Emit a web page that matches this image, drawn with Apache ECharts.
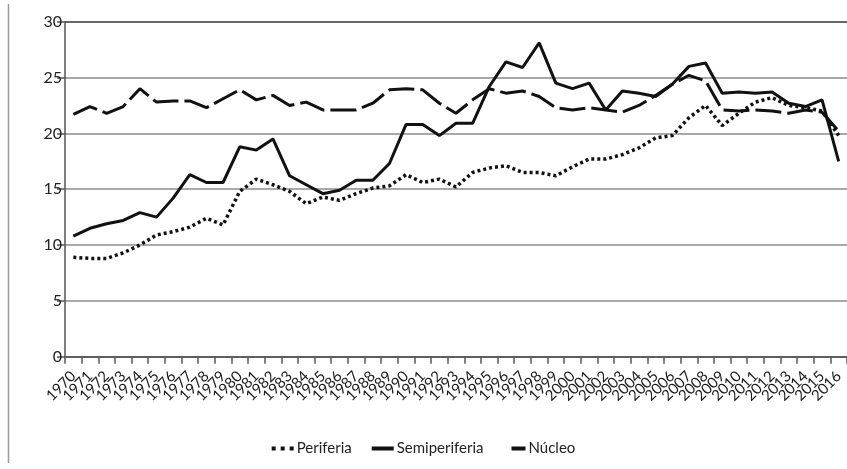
<!DOCTYPE html>
<html>
<head>
<meta charset="utf-8">
<script src="https://cdn.jsdelivr.net/npm/echarts@6/dist/echarts.min.js"></script>
<style>
html,body{margin:0;padding:0;background:#fff;}
#chart{width:847px;height:469px;}
</style>
</head>
<body>
<div id="chart"></div>
<script>
var years = [];
for (var y = 1970; y <= 2016; y++) { years.push(String(y)); }

var periferia = [8.9, 8.8, 8.8, 9.3, 10.0, 10.9, 11.2, 11.6, 12.4, 11.8,
  14.8, 15.9, 15.4, 14.8, 13.7, 14.3, 14.0, 14.6, 15.1, 15.3,
  16.3, 15.6, 15.9, 15.2, 16.5, 16.9, 17.1, 16.5, 16.5, 16.2,
  17.0, 17.7, 17.7, 18.1, 18.7, 19.6, 19.8, 21.4, 22.5, 20.7,
  21.8, 22.8, 23.2, 22.5, 22.3, 22.0, 19.8];

var semiperiferia = [10.8, 11.5, 11.9, 12.2, 12.9, 12.5, 14.2, 16.3, 15.6, 15.6,
  18.8, 18.5, 19.5, 16.2, 15.4, 14.6, 14.9, 15.8, 15.8, 17.3,
  20.8, 20.8, 19.8, 20.9, 20.9, 24.2, 26.4, 25.9, 28.1, 24.5,
  24.0, 24.5, 22.1, 23.8, 23.6, 23.3, 24.4, 26.0, 26.3, 23.6,
  23.7, 23.6, 23.7, 22.7, 22.4, 23.0, 17.5];

var nucleo = [21.7, 22.4, 21.8, 22.4, 24.0, 22.8, 22.9, 22.9, 22.3, 23.1,
  23.9, 23.0, 23.4, 22.5, 22.8, 22.1, 22.1, 22.1, 22.7, 23.9,
  24.0, 23.9, 22.7, 21.8, 23.0, 24.0, 23.6, 23.8, 23.3, 22.3,
  22.1, 22.3, 22.1, 21.9, 22.5, 23.4, 24.4, 25.2, 24.7, 22.1,
  22.0, 22.1, 22.0, 21.8, 22.1, 21.9, 20.2];

var seriesNames = ['Periferia', 'Semiperiferia', 'Núcleo'];
var yTicks = [0, 5, 10, 15, 20, 25, 30];

var font = "Lato, 'Liberation Sans', sans-serif";
var chart = echarts.init(document.getElementById('chart'), null, {renderer: 'canvas'});

var icons = [
  'path://M0,0h4v4h-4zM9,0h4v4h-4zM18,0h4v4h-4z',
  'path://M0,0h22v4h-22z',
  'path://M0,2L0.01,2L0.01,2.01ZM8,0h14v4h-14z'
];

var option = {
  animation: false,
  backgroundColor: '#ffffff',
  graphic: [{
    type: 'line',
    shape: {x1: 8.5, y1: 4, x2: 8.5, y2: 463},
    style: {stroke: '#9a9a9a', lineWidth: 1.5}
  }],
  grid: {left: 65, right: -8, top: 21.7, bottom: 112.3, containLabel: false},
  legend: {
    data: seriesNames.map(function (n, i) { return {name: n, icon: icons[i]}; }),
    top: 436,
    left: 'center',
    itemWidth: 22,
    itemHeight: 4,
    itemGap: 20,
    itemStyle: {color: '#111', borderWidth: 0},
    textStyle: {fontFamily: font, fontSize: 15, color: '#222', padding: [0, 0, 0, -2]}
  },
  xAxis: {
    type: 'category',
    data: years,
    boundaryGap: true,
    axisLine: {lineStyle: {color: '#555', width: 1.5}},
    axisTick: {show: true, length: 7, interval: 0, lineStyle: {color: '#555', width: 1.5}},
    axisLabel: {interval: 0, rotate: 45, fontFamily: font, fontSize: 15, color: '#1a1a1a', margin: 17}
  },
  yAxis: {
    type: 'value',
    min: yTicks[0],
    max: yTicks[yTicks.length - 1],
    interval: 5,
    axisLine: {show: true, lineStyle: {color: '#555', width: 1.5}},
    axisTick: {show: true, length: 8, lineStyle: {color: '#555', width: 1.5}},
    axisLabel: {fontFamily: font, fontSize: 16, color: '#222', margin: 3},
    splitLine: {show: true, lineStyle: {color: ['#555', '#8c8c8c', '#8c8c8c', '#8c8c8c', '#8c8c8c', '#8c8c8c', '#333'], width: 1.5}}
  },
  series: [
    {
      name: seriesNames[0], type: 'line', data: periferia,
      symbol: 'none', showSymbol: false,
      lineStyle: {color: '#111', width: 3.5, type: [3, 3], cap: 'butt'},
      itemStyle: {color: '#111'}
    },
    {
      name: seriesNames[1], type: 'line', data: semiperiferia,
      symbol: 'none', showSymbol: false,
      lineStyle: {color: '#111', width: 3},
      itemStyle: {color: '#111'}
    },
    {
      name: seriesNames[2], type: 'line', data: nucleo,
      symbol: 'none', showSymbol: false,
      lineStyle: {color: '#111', width: 3, type: [26, 6], cap: 'butt'},
      itemStyle: {color: '#111'}
    }
  ]
};
chart.setOption(option);
</script>
</body>
</html>
